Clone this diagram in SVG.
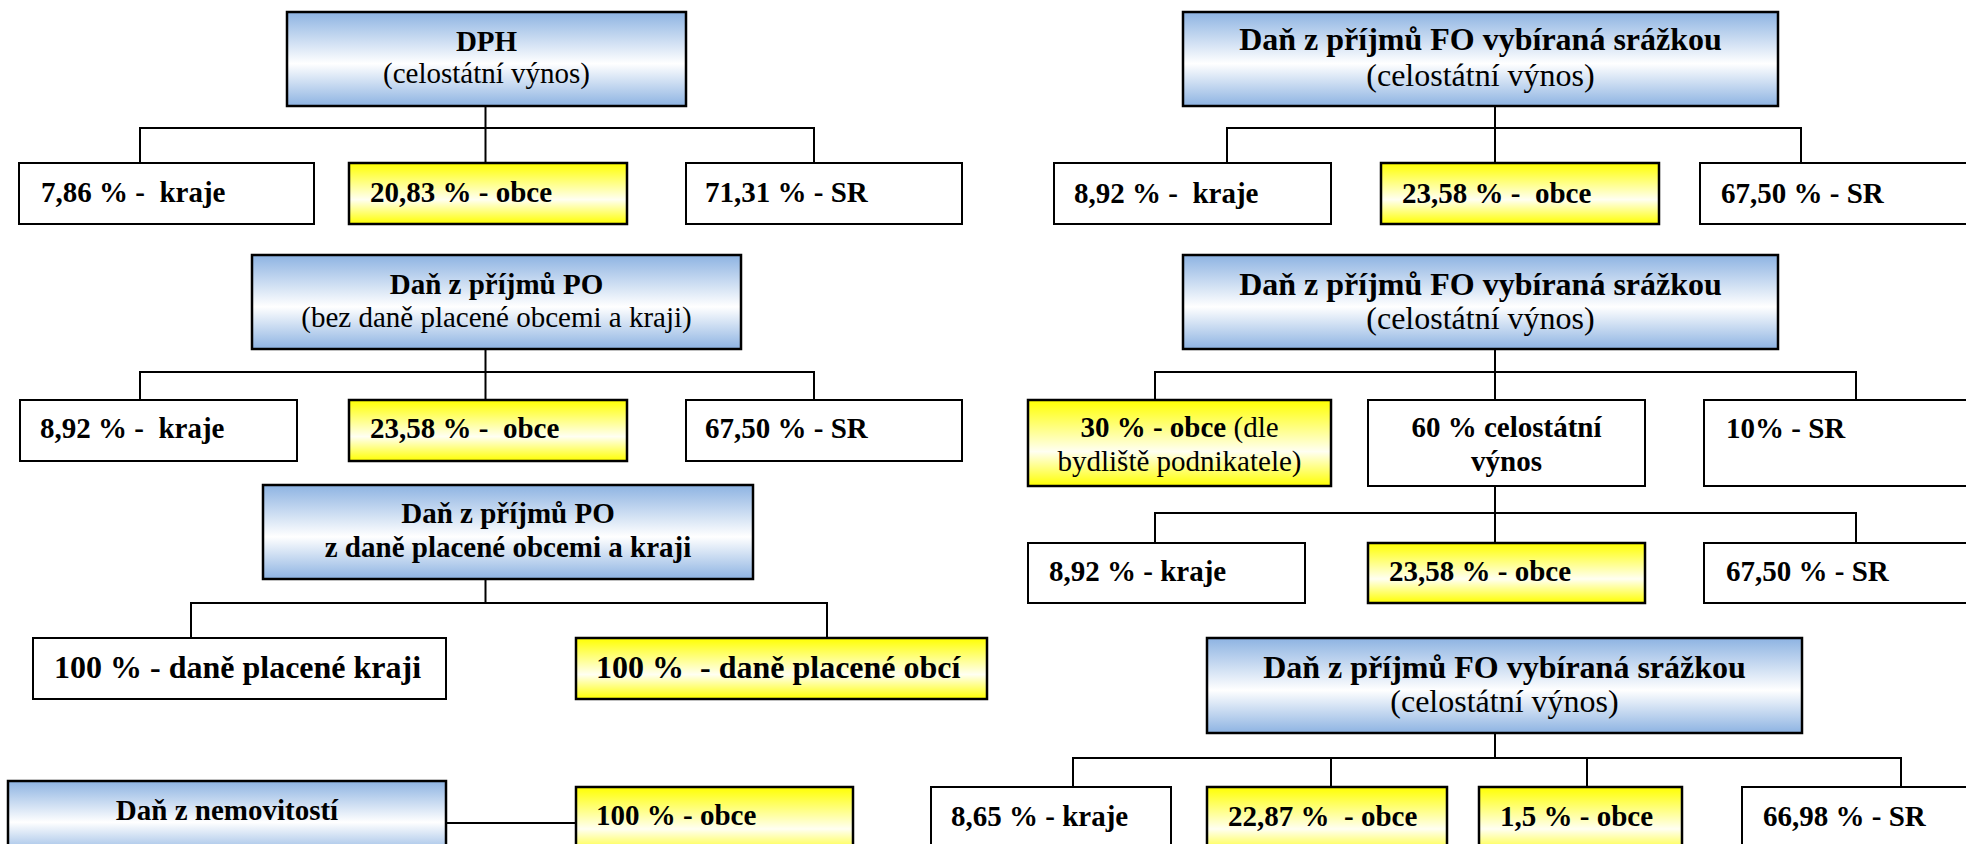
<svg xmlns="http://www.w3.org/2000/svg" width="1966" height="844" viewBox="0 0 1966 844">
<defs>
<linearGradient id="gBlue" x1="0" y1="0" x2="0" y2="1">
<stop offset="0" stop-color="#8DB3E2"/>
<stop offset="0.55" stop-color="#FFFFFF"/>
<stop offset="1" stop-color="#8DB3E2"/>
</linearGradient>
<linearGradient id="gYellow" x1="0" y1="0" x2="0" y2="1">
<stop offset="0" stop-color="#FFFF00"/>
<stop offset="0.6" stop-color="#FFFFF2"/>
<stop offset="1" stop-color="#FFFF00"/>
</linearGradient>
<style>
.hd{fill:url(#gBlue);stroke:#000;stroke-width:2.5}
.yl{fill:url(#gYellow);stroke:#000;stroke-width:2.5}
.wh{fill:#fff;stroke:#000;stroke-width:2}
text{font-family:"Liberation Serif","Times New Roman",serif;font-size:29px;fill:#000;white-space:pre}
.b{font-weight:bold}
.c{text-anchor:middle}
.big{font-size:32px}
.con{fill:none;stroke:#000;stroke-width:2}
</style>
</defs>
<rect width="1966" height="844" fill="#fff"/>

<g id="connectors">
<path class="con" d="M485.5 106V128M140 163V128H814V163M485.5 128V163"/>
<path class="con" d="M485.5 349V372M140 400V372H814V400M485.5 372V400"/>
<path class="con" d="M485.5 579V603M191 638V603H827V638"/>
<path class="con" d="M446 823H576"/>
<path class="con" d="M1495 106V128M1227 163V128H1801V163M1495 128V163"/>
<path class="con" d="M1495 349V372M1155 400V372H1856V400M1495 372V400"/>
<path class="con" d="M1495 486V513M1155 543V513H1856V543M1495 513V543"/>
<path class="con" d="M1495 733V758M1073 787V758H1901V787M1331 758V787M1587 758V787"/>
</g>

<g id="dph">
<rect class="hd" x="287" y="12" width="399" height="94"/>
<text class="b c" x="486.5" y="51">DPH</text>
<text class="c" x="486.5" y="83">(celostátní výnos)</text>
</g>
<g id="dph-kraje"><rect class="wh" x="19" y="163" width="295" height="61"/><text class="b" x="41" y="202">7,86 % -  kraje</text></g>
<g id="dph-obce"><rect class="yl" x="349" y="163" width="278" height="61"/><text class="b" x="370" y="202">20,83 % - obce</text></g>
<g id="dph-sr"><rect class="wh" x="686" y="163" width="276" height="61"/><text class="b" x="705" y="202">71,31 % - SR</text></g>

<g id="po">
<rect class="hd" x="252" y="255" width="489" height="94"/>
<text class="b c" x="496.5" y="294">Daň z příjmů PO</text>
<text class="c" x="496.5" y="327">(bez daně placené obcemi a kraji)</text>
</g>
<g id="po-kraje"><rect class="wh" x="20" y="400" width="277" height="61"/><text class="b" x="40" y="438">8,92 % -  kraje</text></g>
<g id="po-obce"><rect class="yl" x="349" y="400" width="278" height="61"/><text class="b" x="370" y="438">23,58 % -  obce</text></g>
<g id="po-sr"><rect class="wh" x="686" y="400" width="276" height="61"/><text class="b" x="705" y="438">67,50 % - SR</text></g>

<g id="po2">
<rect class="hd" x="263" y="485" width="490" height="94"/>
<text class="b c" x="508" y="523">Daň z příjmů PO</text>
<text class="b c" x="508" y="557">z daně placené obcemi a kraji</text>
</g>
<g id="po2-kraje"><rect class="wh" x="33" y="638" width="413" height="61"/><text class="b big" x="54" y="678">100 % - daně placené kraji</text></g>
<g id="po2-obce"><rect class="yl" x="576" y="638" width="411" height="61"/><text class="b big" x="596" y="678">100 %  - daně placené obcí</text></g>

<g id="nem">
<rect class="hd" x="8" y="781" width="438" height="75"/>
<text class="b c" x="227" y="820">Daň z nemovitostí</text>
</g>
<g id="nem-obce"><rect class="yl" x="576" y="787" width="277" height="70"/><text class="b" x="596" y="825">100 % - obce</text></g>

<g id="fo1">
<rect class="hd" x="1183" y="12" width="595" height="94"/>
<text class="b c big" x="1480.5" y="50">Daň z příjmů FO vybíraná srážkou</text>
<text class="c big" x="1480.5" y="86">(celostátní výnos)</text>
</g>
<g id="fo1-kraje"><rect class="wh" x="1054" y="163" width="277" height="61"/><text class="b" x="1074" y="203">8,92 % -  kraje</text></g>
<g id="fo1-obce"><rect class="yl" x="1381" y="163" width="278" height="61"/><text class="b" x="1402" y="203">23,58 % -  obce</text></g>
<g id="fo1-sr"><rect class="wh" x="1700" y="163" width="280" height="61"/><text class="b" x="1721" y="203">67,50 % - SR</text></g>

<g id="fo2">
<rect class="hd" x="1183" y="255" width="595" height="94"/>
<text class="b c big" x="1480.5" y="295">Daň z příjmů FO vybíraná srážkou</text>
<text class="c big" x="1480.5" y="329">(celostátní výnos)</text>
</g>
<g id="fo2-obce"><rect class="yl" x="1028" y="400" width="303" height="86"/>
<text class="c" x="1179.5" y="437"><tspan class="b">30 % - obce </tspan>(dle</text>
<text class="c" x="1179.5" y="471">bydliště podnikatele)</text></g>
<g id="fo2-cel"><rect class="wh" x="1368" y="400" width="277" height="86"/>
<text class="b c" x="1506.5" y="437">60 % celostátní</text>
<text class="b c" x="1506.5" y="471">výnos</text></g>
<g id="fo2-sr"><rect class="wh" x="1704" y="400" width="276" height="86"/><text class="b" x="1726" y="438">10% - SR</text></g>

<g id="cel-kraje"><rect class="wh" x="1028" y="543" width="277" height="60"/><text class="b" x="1049" y="581">8,92 % - kraje</text></g>
<g id="cel-obce"><rect class="yl" x="1368" y="543" width="277" height="60"/><text class="b" x="1389" y="581">23,58 % - obce</text></g>
<g id="cel-sr"><rect class="wh" x="1704" y="543" width="276" height="60"/><text class="b" x="1726" y="581">67,50 % - SR</text></g>

<g id="fo3">
<rect class="hd" x="1207" y="638" width="595" height="95"/>
<text class="b c big" x="1504.5" y="678">Daň z příjmů FO vybíraná srážkou</text>
<text class="c big" x="1504.5" y="712">(celostátní výnos)</text>
</g>
<g id="fo3-kraje"><rect class="wh" x="931" y="787" width="240" height="70"/><text class="b" x="951" y="826">8,65 % - kraje</text></g>
<g id="fo3-obce1"><rect class="yl" x="1207" y="787" width="240" height="70"/><text class="b" x="1228" y="826">22,87 %  - obce</text></g>
<g id="fo3-obce2"><rect class="yl" x="1479" y="787" width="203" height="70"/><text class="b" x="1500" y="826">1,5 % - obce</text></g>
<g id="fo3-sr"><rect class="wh" x="1742" y="787" width="238" height="70"/><text class="b" x="1763" y="826">66,98 % - SR</text></g>
</svg>
